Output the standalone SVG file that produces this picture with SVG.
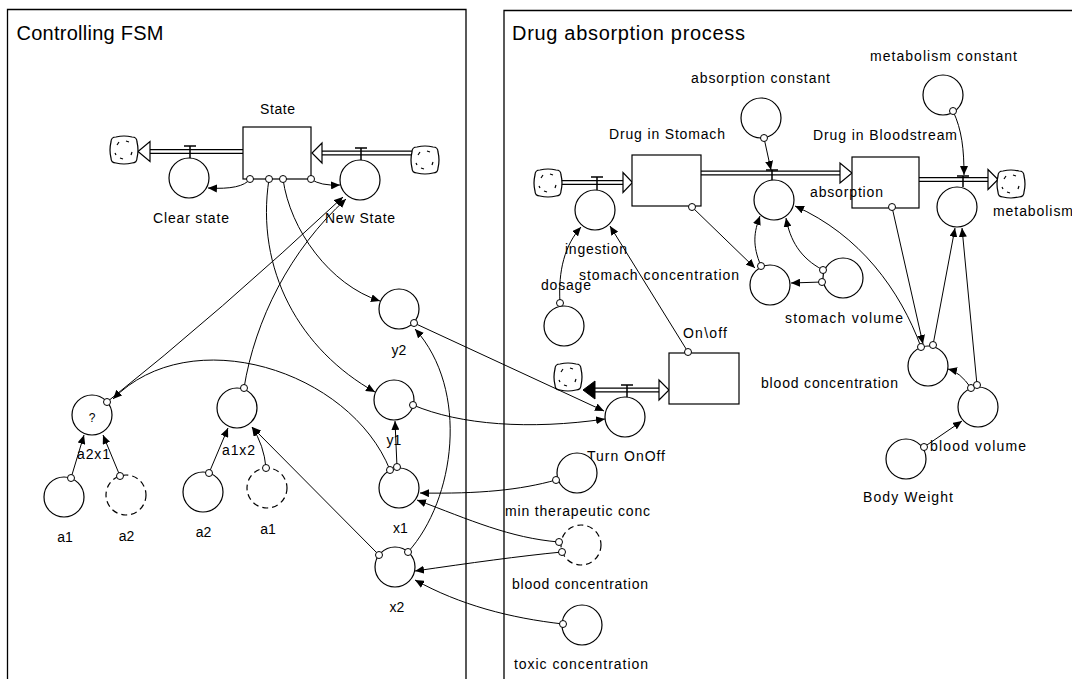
<svg xmlns="http://www.w3.org/2000/svg" width="1072" height="679" viewBox="0 0 1072 679">
<style>
.t{font-family:"Liberation Sans",Arial,sans-serif;font-size:14px;fill:#000}
.title{font-family:"Liberation Sans",Arial,sans-serif;font-size:20px;fill:#000}
.aux{fill:#fff;stroke:#000;stroke-width:1.2}
.ghost{fill:#fff;stroke:#000;stroke-width:1.2;stroke-dasharray:6 4}
.stock{fill:#fff;stroke:#000;stroke-width:1.2}
.frame{fill:none;stroke:#000;stroke-width:1.3}
.pipeo{fill:none;stroke:#000;stroke-width:5}
.pipei{fill:none;stroke:#fff;stroke-width:2.6}
.harrow{fill:#fff;stroke:#000;stroke-width:1.2}
.barrow{fill:#000;stroke:#000;stroke-width:1}
.valve{fill:none;stroke:#000;stroke-width:1.5}
.con{fill:none;stroke:#000;stroke-width:1;marker-end:url(#ah)}
.src{fill:#fff;stroke:#000;stroke-width:1}
.cloud{fill:#fff;stroke:#000;stroke-width:1.2}
.cd{fill:none;stroke:#000;stroke-width:1.2}
</style>
<defs>
<marker id="ah" markerWidth="10" markerHeight="8" refX="9" refY="4" orient="auto" markerUnits="userSpaceOnUse"><path d="M0,0 L9,4 L0,8 Z" fill="#000"/></marker>
<g id="cl"><path class="cloud" d="M-8,-13 Q0,-15 8,-13 Q13,-13 13,-8 Q15,0 13,8 Q13,13 8,13 Q0,15 -8,13 Q-13,13 -13,8 Q-15,0 -13,-8 Q-13,-13 -8,-13 Z"/><path class="cd" d="M-7,-5 l2,-3 M2,-9 l3,1 M8,2 l-1,3 M-4,8 l3,1 M-9,3 l1,2"/></g>
</defs>

<g id="frames">
<path class="frame" d="M7.5,679 V9.5 H466 V679"/>
<path class="frame" d="M504,679 V10.5 H1072"/>
<text class="title" x="16.5" y="39.5" textLength="147" lengthAdjust="spacing">Controlling FSM</text>
<text class="title" x="512" y="40" textLength="233" lengthAdjust="spacing">Drug absorption process</text>
</g>

<g id="flows">
<path class="pipeo" d="M150,151.5 H243 M322,153 H412 M561,182.5 H623 M701,173 H840 M919,179.5 H988 M595,390 H659"/>
<path class="pipei" d="M150,151.5 H243 M322,153 H412 M561,182.5 H623 M701,173 H840 M919,179.5 H988 M595,390 H659"/>
<polygon class="harrow" points="150,141.5 150,161.5 138,151.5"/>
<polygon class="harrow" points="322,143 322,163 312,153"/>
<polygon class="harrow" points="623,172.5 623,192.5 632.5,182.5"/>
<polygon class="harrow" points="840,163 840,183 852,173"/>
<polygon class="harrow" points="988,169.5 988,189.5 998,179.5"/>
<polygon class="harrow" points="659,380 659,400 669,390"/>
<polygon class="barrow" points="595,381 595,399 583,390"/>
<path class="valve" d="M184,146 H196 M190,146 V158 M355,148 H367 M361,148 V160 M591,177 H603 M597,177 V190 M766,170 H778 M772,170 V180 M957,176 H969 M963,176 V187 M621,385 H633 M627,385 V397"/>
<use href="#cl" x="124" y="150"/>
<use href="#cl" x="425" y="160"/>
<use href="#cl" x="548" y="183"/>
<use href="#cl" x="1011" y="184"/>
<use href="#cl" x="568" y="377"/>
</g>

<g id="node-state"><rect class="stock" x="243" y="127" width="68" height="52"/><text class="t" x="277.5" y="114" text-anchor="middle" textLength="35" lengthAdjust="spacing">State</text></g>
<g id="node-clear-state"><circle class="aux" cx="189" cy="178" r="20"/><text class="t" x="191" y="223" text-anchor="middle" textLength="76" lengthAdjust="spacing">Clear state</text></g>
<g id="node-new-state"><circle class="aux" cx="360" cy="180" r="20"/><text class="t" x="360" y="223" text-anchor="middle" textLength="70" lengthAdjust="spacing">New State</text></g>
<g id="node-a2x1"><circle class="aux" cx="92" cy="415" r="20"/><text class="t" x="92" y="422" text-anchor="middle" style="font-size:12px">?</text><text class="t" x="93.5" y="459" text-anchor="middle" textLength="33" lengthAdjust="spacing">a2x1</text></g>
<g id="node-a1-left"><circle class="aux" cx="64" cy="497" r="20"/><text class="t" x="65" y="542" text-anchor="middle">a1</text></g>
<g id="node-a2-ghost"><circle class="ghost" cx="126" cy="495" r="20"/><text class="t" x="126.5" y="541" text-anchor="middle">a2</text></g>
<g id="node-a1x2"><circle class="aux" cx="237" cy="408" r="20"/><text class="t" x="238.5" y="455" text-anchor="middle" textLength="33" lengthAdjust="spacing">a1x2</text></g>
<g id="node-a2"><circle class="aux" cx="203" cy="492" r="20"/><text class="t" x="203.5" y="537" text-anchor="middle">a2</text></g>
<g id="node-a1-ghost"><circle class="ghost" cx="267" cy="488" r="20"/><text class="t" x="268" y="534" text-anchor="middle">a1</text></g>
<g id="node-y2"><circle class="aux" cx="399" cy="309" r="20"/><text class="t" x="399" y="355" text-anchor="middle">y2</text></g>
<g id="node-y1"><circle class="aux" cx="394" cy="400" r="20"/><text class="t" x="394" y="445" text-anchor="middle">y1</text></g>
<g id="node-x1"><circle class="aux" cx="399" cy="488" r="20"/><text class="t" x="400.5" y="533" text-anchor="middle">x1</text></g>
<g id="node-x2"><circle class="aux" cx="395" cy="567" r="20"/><text class="t" x="397" y="612" text-anchor="middle">x2</text></g>

<g id="node-drug-in-stomach"><rect class="stock" x="632" y="155" width="69" height="51"/><text class="t" x="667" y="139" text-anchor="middle" textLength="116" lengthAdjust="spacing">Drug in Stomach</text></g>
<g id="node-drug-in-bloodstream"><rect class="stock" x="852" y="157" width="67" height="51"/><text class="t" x="885" y="140" text-anchor="middle" textLength="144" lengthAdjust="spacing">Drug in Bloodstream</text></g>
<g id="node-onoff"><rect class="stock" x="669" y="353" width="70" height="51"/><text class="t" x="705" y="338" text-anchor="middle" textLength="44" lengthAdjust="spacing">On\off</text></g>
<g id="node-ingestion"><circle class="aux" cx="595" cy="210" r="20"/><text class="t" x="596" y="254" text-anchor="middle" textLength="62" lengthAdjust="spacing">ingestion</text></g>
<g id="node-absorption"><circle class="aux" cx="774" cy="200" r="20"/><text class="t" x="846.5" y="197" text-anchor="middle" textLength="73" lengthAdjust="spacing">absorption</text></g>
<g id="node-metabolism"><circle class="aux" cx="957" cy="207" r="20"/><text class="t" x="993" y="216" textLength="80" lengthAdjust="spacing">metabolism</text></g>
<g id="node-absorption-constant"><circle class="aux" cx="761" cy="118" r="20"/><text class="t" x="760.5" y="83" text-anchor="middle" textLength="139" lengthAdjust="spacing">absorption constant</text></g>
<g id="node-metabolism-constant"><circle class="aux" cx="943" cy="95" r="20"/><text class="t" x="943.5" y="61" text-anchor="middle" textLength="147" lengthAdjust="spacing">metabolism constant</text></g>
<g id="node-stomach-concentration"><circle class="aux" cx="770" cy="285" r="20"/><text class="t" x="659" y="280" text-anchor="middle" textLength="160" lengthAdjust="spacing">stomach concentration</text></g>
<g id="node-stomach-volume"><circle class="aux" cx="843" cy="278" r="20"/><text class="t" x="844" y="323" text-anchor="middle" textLength="118" lengthAdjust="spacing">stomach volume</text></g>
<g id="node-dosage"><circle class="aux" cx="564" cy="326" r="20"/><text class="t" x="566" y="290" text-anchor="middle" textLength="50" lengthAdjust="spacing">dosage</text></g>
<g id="node-turn-onoff"><circle class="aux" cx="625" cy="417" r="20"/><text class="t" x="626" y="461" text-anchor="middle" textLength="78" lengthAdjust="spacing">Turn OnOff</text></g>
<g id="node-blood-concentration"><circle class="aux" cx="928" cy="366" r="20"/><text class="t" x="829.5" y="388" text-anchor="middle" textLength="137" lengthAdjust="spacing">blood concentration</text></g>
<g id="node-blood-volume"><circle class="aux" cx="978" cy="407" r="20"/><text class="t" x="978" y="451" text-anchor="middle" textLength="96" lengthAdjust="spacing">blood volume</text></g>
<g id="node-body-weight"><circle class="aux" cx="906" cy="459" r="20"/><text class="t" x="908" y="502" text-anchor="middle" textLength="90" lengthAdjust="spacing">Body Weight</text></g>
<g id="node-min-therapeutic-conc"><circle class="aux" cx="577" cy="473" r="20"/><text class="t" x="577.5" y="516" text-anchor="middle" textLength="145" lengthAdjust="spacing">min therapeutic conc</text></g>
<g id="node-blood-concentration-ghost"><circle class="ghost" cx="581" cy="545" r="20"/><text class="t" x="580" y="589" text-anchor="middle" textLength="136" lengthAdjust="spacing">blood concentration</text></g>
<g id="node-toxic-concentration"><circle class="aux" cx="582" cy="625" r="20"/><text class="t" x="581" y="669" text-anchor="middle" textLength="134" lengthAdjust="spacing">toxic concentration</text></g>

<g id="connectors">
<path class="con" d="M250,179 Q242,190 208,188"/>
<path class="con" d="M311,179 Q320,186 340,185"/>
<path class="con" d="M269,179 C255,270 300,350 375,392"/>
<path class="con" d="M283,179 C290,230 330,285 380,301"/>
<path class="con" d="M107,402 Q220,312 343,197"/>
<path class="con" d="M244,388 C255,320 290,250 346,199"/>
<path class="con" d="M390,470 C350,370 190,320 113,399"/>
<path class="con" d="M397,467 L395,421"/>
<path class="con" d="M71,478 L84,435"/>
<path class="con" d="M120,476 L103,435"/>
<path class="con" d="M209,473 L228,428"/>
<path class="con" d="M266,468 Q264,445 252,427"/>
<path class="con" d="M379,555 L252,427"/>
<path class="con" d="M408,552 C455,500 470,390 415,329"/>
<path class="con" d="M414,323 L604,411"/>
<path class="con" d="M413,405 C460,425 530,430 605,419"/>
<path class="con" d="M556,480 C520,490 480,494 420,493"/>
<path class="con" d="M559,542 C510,538 470,520 417,500"/>
<path class="con" d="M562,552 C520,556 470,563 415,571"/>
<path class="con" d="M563,624 C510,618 460,605 415,580"/>
<path class="con" d="M560,303 C558,270 565,245 581,227"/>
<path class="con" d="M688,352 L610,226"/>
<path class="con" d="M692,207 L755,268"/>
<path class="con" d="M761,266 C752,245 754,232 760,216"/>
<path class="con" d="M823,270 C800,258 790,240 786,218"/>
<path class="con" d="M822,282 L791,283"/>
<path class="con" d="M921,347 C900,290 860,235 795,206"/>
<path class="con" d="M892,207 L923,344"/>
<path class="con" d="M933,345 L955,228"/>
<path class="con" d="M977,385 L962,228"/>
<path class="con" d="M971,388 Q960,372 948,369"/>
<path class="con" d="M924,447 L962,421"/>
<path class="con" d="M764,138 L771,170"/>
<path class="con" d="M953,111 C962,130 964,150 964,175"/>
<g id="sources">
<circle class="src" cx="250" cy="179" r="3.5"/><circle class="src" cx="269" cy="179" r="3.5"/><circle class="src" cx="283" cy="179" r="3.5"/><circle class="src" cx="311" cy="179" r="3.5"/>
<circle class="src" cx="107" cy="402" r="3.5"/><circle class="src" cx="244" cy="388" r="3.5"/>
<circle class="src" cx="71" cy="478" r="3.5"/><circle class="src" cx="120" cy="476" r="3.5"/><circle class="src" cx="209" cy="473" r="3.5"/><circle class="src" cx="266" cy="468" r="3.5"/>
<circle class="src" cx="414" cy="323" r="3.5"/><circle class="src" cx="413" cy="405" r="3.5"/>
<circle class="src" cx="390" cy="470" r="3.5"/><circle class="src" cx="397" cy="467" r="3.5"/>
<circle class="src" cx="379" cy="555" r="3.5"/><circle class="src" cx="408" cy="552" r="3.5"/>
<circle class="src" cx="556" cy="480" r="3.5"/><circle class="src" cx="559" cy="542" r="3.5"/><circle class="src" cx="562" cy="552" r="3.5"/><circle class="src" cx="563" cy="624" r="3.5"/>
<circle class="src" cx="560" cy="303" r="3.5"/><circle class="src" cx="688" cy="352" r="3.5"/><circle class="src" cx="692" cy="207" r="3.5"/><circle class="src" cx="892" cy="207" r="3.5"/>
<circle class="src" cx="764" cy="138" r="3.5"/><circle class="src" cx="953" cy="111" r="3.5"/><circle class="src" cx="761" cy="266" r="3.5"/>
<circle class="src" cx="823" cy="270" r="3.5"/><circle class="src" cx="822" cy="282" r="3.5"/>
<circle class="src" cx="921" cy="347" r="3.5"/><circle class="src" cx="933" cy="345" r="3.5"/>
<circle class="src" cx="971" cy="388" r="3.5"/><circle class="src" cx="977" cy="385" r="3.5"/><circle class="src" cx="924" cy="447" r="3.5"/>
</g>
</g>
</svg>
